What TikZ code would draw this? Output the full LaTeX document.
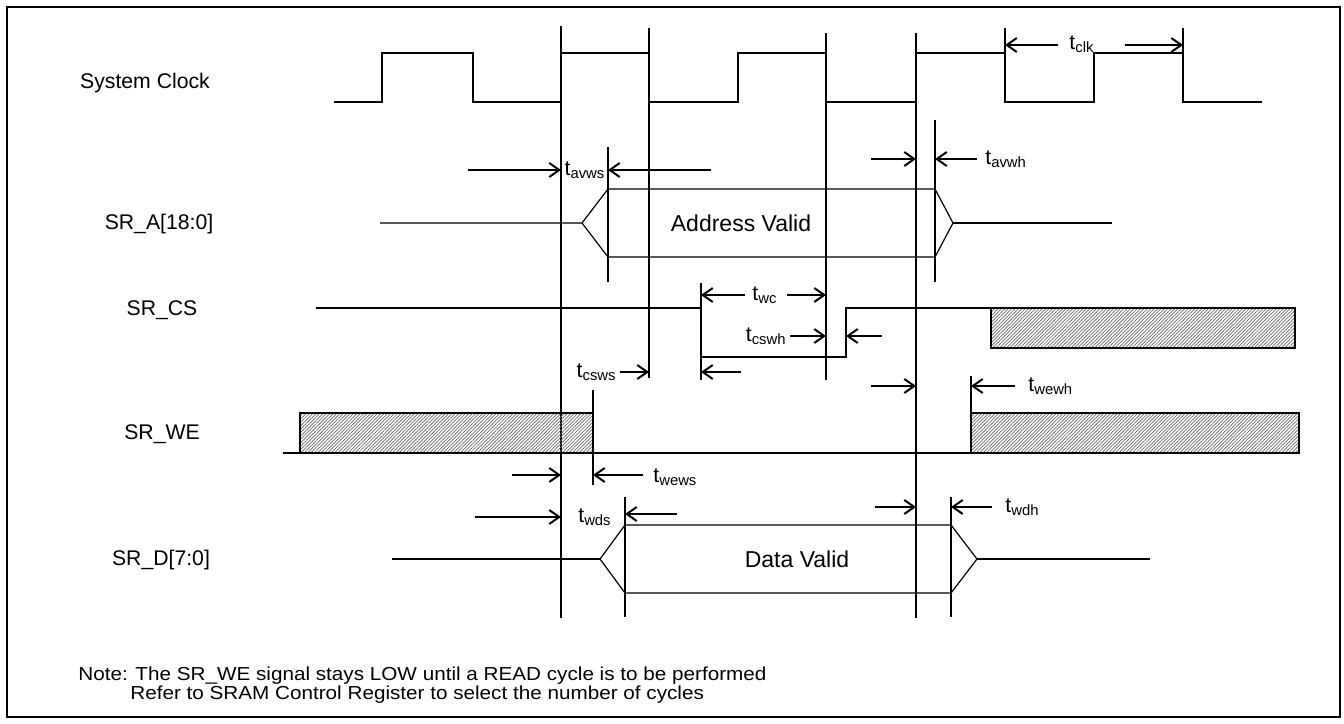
\documentclass[tikz,border=0pt]{standalone}
\usepackage{fontspec}
\setmainfont{Liberation Sans}
\newfontfamily\notefont{Liberation Sans}[FakeStretch=1.1]
\usetikzlibrary{arrows.meta,patterns.meta}

\begin{document}
\begin{tikzpicture}[x=0.5pt,y=-0.5pt,
    sig/.style={line width=1pt},
    bus/.style={line width=0.6pt},
    dim/.style={line width=1pt,-{Straight Barb[length=5pt,width=7pt]}},
    hatch/.style={draw,line width=1pt,pattern={Lines[angle=45,distance=1.2pt,line width=0.35pt]},pattern color=black!60},
    every node/.style={font=\fontsize{10.6}{12}\selectfont,inner sep=1pt}]
        \useasboundingbox (0,0) rectangle (1344,723);
        \draw[line width=1pt] (7,7) rectangle (1340,717);

        \path
        % signal names
        (145,83) node(clkname) {System Clock}
        (159,224) node(saname) {SR\_A[18:0]}
        (162,310) node(csname) {SR\_CS}
        (162,434) node(wename) {SR\_WE}
        (161,560) node(dname) {SR\_D[7:0]}

        % timing labels
        (1082,44) node(tclk) {t\textsubscript{clk}}
        (585,170) node(tavws) {t\textsubscript{avws}}
        (983,159) node[anchor=west](tavwh) {t\textsubscript{avwh}}
        (765,295) node(twc) {t\textsubscript{wc}}
        (789,336) node[anchor=east](tcswh) {t\textsubscript{cswh}}
        (619,372) node[anchor=east](tcsws) {t\textsubscript{csws}}
        (1026,386) node[anchor=west](twewh) {t\textsubscript{wewh}}
        (651,477) node[anchor=west](twews) {t\textsubscript{wews}}
        (595,517) node(twds) {t\textsubscript{wds}}
        (1003,507) node[anchor=west](twdh) {t\textsubscript{wdh}}

        % bus contents
        (741,223) node[font=\fontsize{11.5}{13}\selectfont](addr) {Address Valid}
        (797,559) node[font=\fontsize{11.5}{13}\selectfont](data) {Data Valid}

        % note
        (76,676) node[anchor=west,font=\notefont\fontsize{9.4}{11}\selectfont](note1) {Note: The SR\_WE signal stays LOW until a READ cycle is to be performed}
        (128,695) node[anchor=west,font=\notefont\fontsize{9.4}{11}\selectfont](note2) {Refer to SRAM Control Register to select the number of cycles}
        ;

        % clock
        \draw[sig] (334,102) -- (382,102) -- (382,53) -- (473,53) -- (473,102) -- (561,102) -- (561,53) -- (649,53)
          -- (649,102) -- (738,102) -- (738,53) -- (826,53) -- (826,102) -- (916,102) -- (916,53) -- (1005,53)
          -- (1005,102) -- (1094,102) -- (1094,53) -- (1183,53) -- (1183,102) -- (1262,102);
        \draw[sig] (1005,28) -- (1005,53);
        \draw[sig] (1183,28) -- (1183,53);
        \draw[dim] (1058,45) -- (1005,45);
        \draw[dim] (1125,45) -- (1183,45);

        % reference edges
        \draw[sig] (561,26) -- (561,618);
        \draw[sig] (649,28) -- (649,378);
        \draw[sig] (826,33) -- (826,380);
        \draw[sig] (916,33) -- (916,618);

        % address
        \draw[bus] (380,223) -- (582,223) -- (608,189) -- (935,189) -- (953,223) -- (935,257) -- (608,257) -- (582,223);
        \draw[sig] (953,223) -- (1112,223);
        \draw[sig] (608,147) -- (608,282);
        \draw[sig] (935,120) -- (935,282);
        \draw[dim] (468,170) -- (561,170);
        \draw[dim] (711,170) -- (608,170);
        \draw[dim] (871,159) -- (916,159);
        \draw[dim] (977,159) -- (935,159);

        % chip select
        \draw[sig] (316,308) -- (701,308) -- (701,357) -- (846,357) -- (846,308) -- (991,308);
        \draw[sig] (701,283) -- (701,380);
        \draw[hatch] (991,308) rectangle (1295,348);
        \draw[dim] (745,295) -- (701,295);
        \draw[dim] (787,295) -- (826,295);
        \draw[dim] (790,336) -- (826,336);
        \draw[dim] (882,336) -- (846,336);
        \draw[dim] (741,372) -- (701,372);
        \draw[dim] (620,372) -- (649,372);

        % write enable
        \draw[hatch] (300,413) rectangle (593,453);
        \draw[hatch] (971,413) rectangle (1299,453);
        \draw[sig] (283,453) -- (1300,453);
        \draw[sig] (593,390) -- (593,485);
        \draw[sig] (971,376) -- (971,453);
        \draw[dim] (871,386) -- (916,386);
        \draw[dim] (1015,386) -- (971,386);
        \draw[dim] (512,475) -- (561,475);
        \draw[dim] (643,475) -- (593,475);

        % data
        \draw[sig] (392,559) -- (600,559);
        \draw[bus] (600,559) -- (625,525) -- (951,525) -- (977,559) -- (951,593) -- (625,593) -- cycle;
        \draw[sig] (977,559) -- (1150,559);
        \draw[sig] (625,497) -- (625,617);
        \draw[sig] (951,497) -- (951,617);
        \draw[dim] (475,517) -- (561,517);
        \draw[dim] (677,514) -- (625,514);
        \draw[dim] (875,507) -- (916,507);
        \draw[dim] (992,507) -- (951,507);
      \end{tikzpicture}
\end{document}
